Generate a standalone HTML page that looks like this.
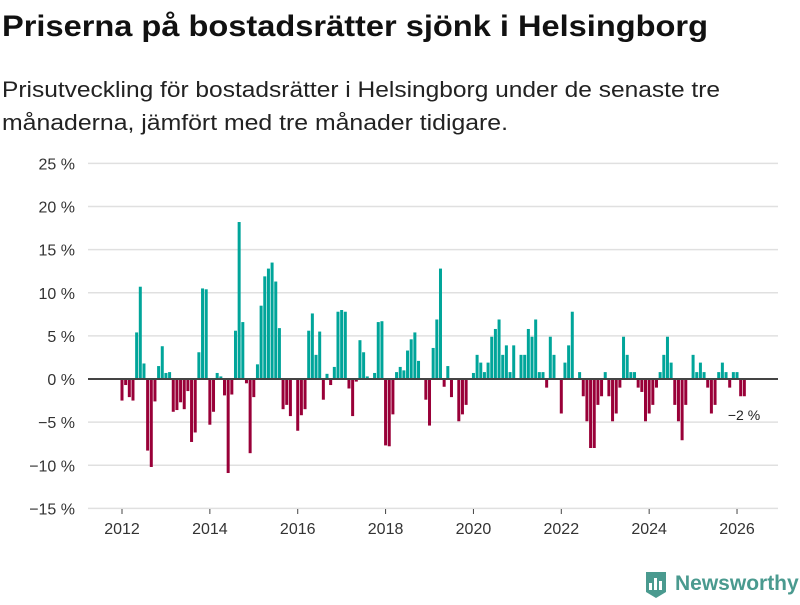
<!DOCTYPE html>
<html><head><meta charset="utf-8"><style>
body{margin:0;background:#fff;width:800px;height:600px;overflow:hidden;font-family:"Liberation Sans",sans-serif}
</style></head><body>
<svg id="chart" width="800" height="600" xmlns="http://www.w3.org/2000/svg" font-family="Liberation Sans, sans-serif">
<text x="2" y="36" font-size="30" font-weight="bold" fill="#111" textLength="706" lengthAdjust="spacingAndGlyphs">Priserna på bostadsrätter sjönk i Helsingborg</text>
<text x="2" y="97" font-size="22" fill="#222" textLength="718" lengthAdjust="spacingAndGlyphs">Prisutveckling för bostadsrätter i Helsingborg under de senaste tre</text>
<text x="2" y="130" font-size="22" fill="#222" textLength="506" lengthAdjust="spacingAndGlyphs">månaderna, jämfört med tre månader tidigare.</text>
<g id="grid"></g><g id="bars"></g><g id="axes"></g>
<text x="744" y="420" font-size="14" fill="#222" text-anchor="middle">−2 %</text>
<g>
<path d="M646 572 h20 v20 l-10 6 l-10 -6 z" fill="#4a9a8f"/>
<rect x="649" y="583" width="3" height="7" fill="#fff"/><rect x="654" y="578" width="3" height="12" fill="#fff"/><rect x="659" y="581" width="3" height="9" fill="#fff"/>
<text x="675" y="590" font-size="21" font-weight="bold" fill="#4a9a8f">Newsworthy</text>
</g>
</svg>
<script>
const startYear = 2012;
const values = [
-2.5,-0.7,-2.1,-2.5,5.4,10.7,1.8,-8.3,-10.2,-2.6,1.5,3.8,
0.7,0.8,-3.8,-3.6,-2.7,-3.5,-1.4,-7.3,-6.2,3.1,10.5,10.4,
-5.3,-3.8,0.7,0.3,-1.9,-10.9,-1.8,5.6,18.2,6.6,-0.5,-8.6,
-2.1,1.7,8.5,11.9,12.8,13.5,11.3,5.9,-3.5,-3.0,-4.3,0,
-6.0,-4.2,-3.5,5.6,7.6,2.8,5.5,-2.4,0.6,-0.7,1.4,7.8,
8.0,7.8,-1.1,-4.3,-0.3,4.5,3.1,0.3,0.1,0.7,6.6,6.7,
-7.7,-7.8,-4.1,0.8,1.4,1.0,3.3,4.6,5.4,2.1,0.1,-2.4,
-5.4,3.6,6.9,12.8,-0.9,1.5,-2.1,0,-4.9,-4.1,-3.0,0,
0.7,2.8,1.9,0.8,1.9,4.9,5.8,6.9,2.8,3.9,0.8,3.9,
0,2.8,2.8,5.8,4.9,6.9,0.8,0.8,-1.0,4.9,2.8,0,
-4.0,1.9,3.9,7.8,0,0.8,-2.0,-4.9,-8.0,-8.0,-3.0,-2.0,
0.8,-2.0,-4.9,-4.0,-1.0,4.9,2.8,0.8,0.8,-1.0,-1.5,-4.9,
-4.0,-3.0,-1.0,0.8,2.8,4.9,1.9,-3.0,-4.9,-7.1,-3.0,0,
2.8,0.8,1.9,0.8,-1.0,-4.0,-3.0,0.8,1.9,0.8,-1.0,0.8,
0.8,-2.0,-2.0
];
const yTicks = [25,20,15,10,5,0,-5,-10,-15];
const xTicks = [2012,2014,2016,2018,2020,2022,2024,2026];
const NS = "http://www.w3.org/2000/svg";
function y(v){return 379 - v*8.625;}
function x(yr){return 122 + (yr-2012)*43.93;}
const grid=document.getElementById('grid'), bars=document.getElementById('bars'), axes=document.getElementById('axes');
yTicks.forEach(t=>{
  const l=document.createElementNS(NS,'line');
  
  
  l.setAttribute('x1',88);l.setAttribute('x2',778);l.setAttribute('y1',y(t));l.setAttribute('y2',y(t));
  l.setAttribute('stroke','#e0e0e0');l.setAttribute('stroke-width','1.5');
  grid.appendChild(l);
  const tx=document.createElementNS(NS,'text');
  
  
  tx.setAttribute('x',75);tx.setAttribute('y',y(t)+6);tx.setAttribute('text-anchor','end');
  tx.setAttribute('font-size','16');tx.setAttribute('fill','#333');
  tx.textContent=(t<0?'−'+(-t):t)+' %';
  axes.appendChild(tx);
});
values.forEach((v,i)=>{
  const r=document.createElementNS(NS,'rect');
  
  
  const cx=x(startYear+i/12);
  r.setAttribute('x',cx-1.5);r.setAttribute('width',3);
  r.setAttribute('y',Math.min(y(v),y(0)));r.setAttribute('height',Math.abs(y(v)-y(0)));
  r.setAttribute('fill',v>=0?'#00a59a':'#990038');
  bars.appendChild(r);
});
const z=document.createElementNS(NS,'line');


z.setAttribute('x1',88);z.setAttribute('x2',778);z.setAttribute('y1',y(0));z.setAttribute('y2',y(0));
z.setAttribute('stroke','#444');z.setAttribute('stroke-width','2');
axes.appendChild(z);
xTicks.forEach(t=>{
  const l=document.createElementNS(NS,'line');
  
  
  l.setAttribute('x1',x(t));l.setAttribute('x2',x(t));l.setAttribute('y1',509);l.setAttribute('y2',514);
  l.setAttribute('stroke','#444');
  axes.appendChild(l);
  const tx=document.createElementNS(NS,'text');
  
  
  tx.setAttribute('x',x(t));tx.setAttribute('y',534);tx.setAttribute('text-anchor','middle');
  tx.setAttribute('font-size','16');tx.setAttribute('fill','#333');
  tx.textContent=t;
  axes.appendChild(tx);
});
</script>
</body></html>
